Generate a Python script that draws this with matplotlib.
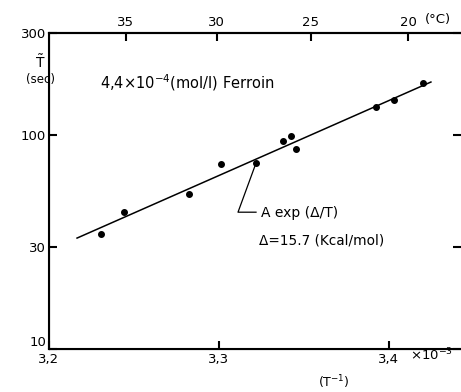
import numpy as np
from matplotlib import pyplot as plt

# data (x in units of 1e-3 1/K, y = period in sec)
invT = [3.2306, 3.2441, 3.2824, 3.3012, 3.3218, 3.3376, 3.3424, 3.3453, 3.3924, 3.4029, 3.4200]
period = [34.4, 43.6, 53.0, 73.1, 74.0, 93.7, 98.9, 86.1, 135.0, 146.0, 175.0]

fit_x = [3.2165, 3.4247]
fit_y = [33.0, 177.0]

bottom_ticks = [3.2, 3.3, 3.4]
bottom_labels = ["3,2", "3,3", "3,4"]
left_ticks = [10, 30, 100, 300]
left_labels = ["10", "30", "100", "300"]
top_celsius = [35, 30, 25, 20]

plt.rcParams['font.family'] = ['DejaVu Sans']
fig = plt.figure(figsize=(4.61, 3.92), dpi=100)
ax = fig.add_axes([0.1063, 0.1097, 0.8937, 0.8061])
top = ax.twiny()

ax.set_yscale('log')
ax.set_xlim(3.2, 3.4424)
ax.set_ylim(10, 300)

ax.plot(fit_x, fit_y, color='black', lw=1.1)
ax.plot(invT, period, 'o', color='black', ms=4)

ax.set_xticks(bottom_ticks)
ax.set_xticklabels(bottom_labels)
ax.set_yticks(left_ticks)
ax.set_yticklabels(left_labels)
ax.minorticks_off()
ax.tick_params(axis='x', which='major', bottom=True, direction='in', length=6, width=1.5,
               labelsize=9.5, pad=3)
ax.tick_params(axis='y', which='major', left=True, right=True, direction='in', length=6,
               width=1.5, labelsize=9.5, pad=2)
ax.get_yticklabels()[0].set_verticalalignment('bottom')

for s in ['left', 'bottom', 'top']:
    ax.spines[s].set_linewidth(1.5)
ax.spines['right'].set_visible(False)

# top celsius axis
top.set_xlim(ax.get_xlim())
top.set_xticks([1000.0 / (273.15 + c) for c in top_celsius])
top.set_xticklabels([str(c) for c in top_celsius])
top.tick_params(axis='x', which='major', top=True, direction='in', length=6, width=1.5,
                labelsize=9.5, pad=3)
top.spines['right'].set_visible(False)
top.spines['top'].set_linewidth(1.5)

# texts
fig.text(425 / 461, 1 - 20 / 392, "(°C)", fontsize=9.5, va='center', ha='left')
fig.text(40 / 461, 1 - 62 / 392, "$\\tilde{\\mathrm{T}}$", fontsize=10, va='center', ha='center')
fig.text(40 / 461, 1 - 80 / 392, "(sec)", fontsize=8.5, va='center', ha='center')
fig.text(410 / 461, 1 - 355 / 392, "×10$^{-3}$", fontsize=9.5, va='center', ha='left')
fig.text(334 / 461, 1 - 382 / 392, "(T$^{-1}$)", fontsize=9, va='center', ha='center')

ax.text(3.2300, 175, "4,4×10$^{-4}$(mol/l) Ferroin", fontsize=10.5, va='center', ha='left')

# leader line for the fit annotation
ax.plot([3.3218, 3.3112, 3.3218], [74.0, 43.6, 43.6], color='black', lw=0.9)
ax.text(3.3245, 43.3, "A exp (Δ/T)", fontsize=10, va='center', ha='left')
ax.text(3.3235, 32.3, "Δ=15.7 (Kcal/mol)", fontsize=9.8, va='center', ha='left')

fig.savefig("out.png", dpi=100)
